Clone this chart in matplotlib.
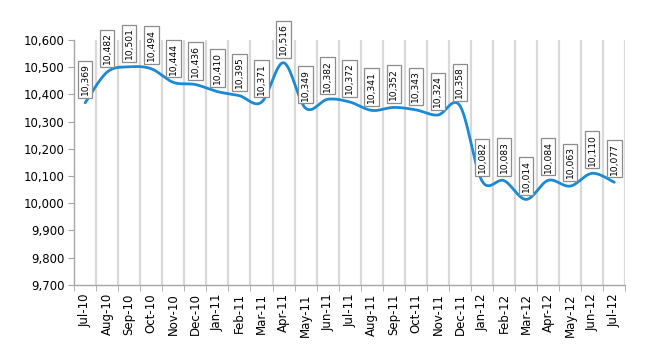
import numpy as np
import matplotlib
matplotlib.use('Agg')
import matplotlib.pyplot as plt

# Dados
months = ['Jul-10', 'Aug-10', 'Sep-10', 'Oct-10', 'Nov-10', 'Dec-10', 'Jan-11', 'Feb-11',
          'Mar-11', 'Apr-11', 'May-11', 'Jun-11', 'Jul-11', 'Aug-11', 'Sep-11', 'Oct-11',
          'Nov-11', 'Dec-11', 'Jan-12', 'Feb-12', 'Mar-12', 'Apr-12', 'May-12', 'Jun-12', 'Jul-12']
values = [10369, 10482, 10501, 10494, 10444, 10436, 10410, 10395, 10371, 10516, 10349, 10382,
          10372, 10341, 10352, 10343, 10324, 10358, 10082, 10083, 10014, 10084, 10063, 10110, 10077]
y_ticks = list(range(9700, 10601, 100))

LINE_COLOR = '#1a8ad4'
GRID_COLOR = '#d9d9d9'
AXIS_COLOR = '#a6a6a6'


# Curva suavizada no estilo do Excel (Bezier a partir de Catmull-Rom)
def smooth_curve(xs, ys, steps=30):
    pts = np.column_stack([xs, ys]).astype(float)
    n = len(pts)
    out = []
    for i in range(n - 1):
        p0 = pts[max(i - 1, 0)]
        p1 = pts[i]
        p2 = pts[i + 1]
        p3 = pts[min(i + 2, n - 1)]
        c1 = p1 + (p2 - p0) / 6.0
        c2 = p2 - (p3 - p1) / 6.0
        t = np.linspace(0, 1, steps)[:, None]
        seg = ((1 - t) ** 3) * p1 + 3 * ((1 - t) ** 2) * t * c1 + 3 * (1 - t) * t ** 2 * c2 + t ** 3 * p2
        out.append(seg if i == 0 else seg[1:])
    curve = np.vstack(out)
    return curve[:, 0], curve[:, 1]


x = np.arange(len(months))

fig = plt.figure(figsize=(6.5, 3.5), dpi=100)
ax = fig.add_axes([0.114, 0.186, 0.848, 0.700])

# Linhas de grade verticais entre as categorias
for k in range(1, len(months) + 1):
    ax.axvline(k - 0.5, color=GRID_COLOR, linewidth=1.6, zorder=0)

cx, cy = smooth_curve(x, values)
ax.plot(cx, cy, color=LINE_COLOR, linewidth=2.0, zorder=3, solid_capstyle='round')

# Rótulos de dados
for xi, v in zip(x, values):
    ax.annotate(f'{v:,}', xy=(xi, v), xytext=(0, 5.5), textcoords='offset points',
                rotation=90, ha='center', va='bottom', fontsize=6.6, color='black',
                bbox=dict(boxstyle='square,pad=0.3', facecolor='white',
                          edgecolor='#8c8c8c', linewidth=0.9), zorder=4)

ax.set_xlim(-0.5, len(months) - 0.5)
ax.set_ylim(9700, 10600)
ax.set_yticks(y_ticks)
ax.set_yticklabels([f'{t:,}' for t in y_ticks], fontsize=8.5)

ax.set_xticks(x)
ax.set_xticklabels(months, rotation=90, fontsize=8.5)
ax.set_xticks(np.arange(-0.5, len(months), 1.0), minor=True)
ax.tick_params(axis='x', which='major', length=0, pad=6)
ax.tick_params(axis='x', which='minor', length=4, color=AXIS_COLOR, direction='out')
ax.tick_params(axis='y', length=4, color=AXIS_COLOR, direction='out', pad=3)

for side in ['top', 'right']:
    ax.spines[side].set_visible(False)
for side in ['left', 'bottom']:
    ax.spines[side].set_color(AXIS_COLOR)
    ax.spines[side].set_linewidth(1.0)

fig.savefig('out.png', dpi=100)
